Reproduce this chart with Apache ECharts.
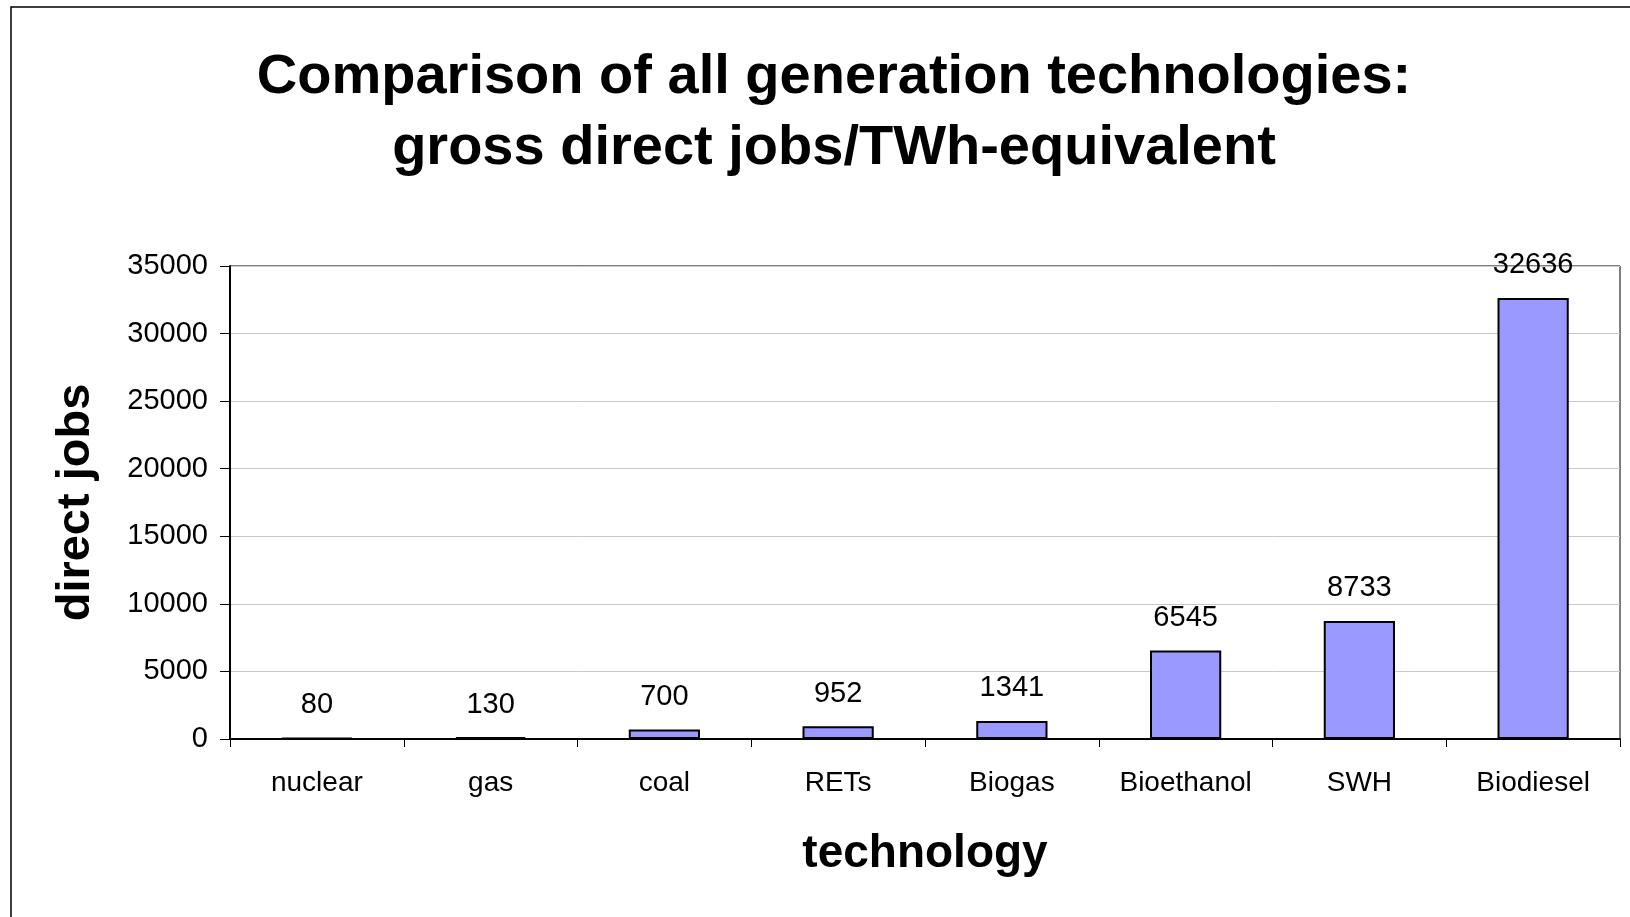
<!DOCTYPE html>
<html><head><meta charset="utf-8">
<script src="https://cdn.jsdelivr.net/npm/echarts@6/dist/echarts.min.js"></script>
<style>html,body{margin:0;padding:0;background:#fff}#c{width:1630px;height:917px}</style>
</head><body><div id="c"></div>
<script>
const categories = ['nuclear','gas','coal','RETs','Biogas','Bioethanol','SWH','Biodiesel'];
const jobs = [80,130,700,952,1341,6545,8733,32636];
const yTicks = [0,5000,10000,15000,20000,25000,30000,35000];
const titleLines = ['Comparison of all generation technologies:','gross direct jobs/TWh-equivalent'];
const FONT = '"Liberation Sans", Arial, sans-serif';
const chart = echarts.init(document.getElementById('c'), null, {renderer:'canvas'});
chart.setOption({
  animation:false,
  backgroundColor:'#fff',
  title:{text:titleLines.join('\n'), left:829, top:37, textAlign:'center',
    textStyle:{fontFamily:FONT, fontWeight:'bold', fontSize:56, lineHeight:71, color:'#000'}},
  graphic:[{type:'rect', shape:{x:11,y:7,width:1700,height:1000}, style:{fill:'none', stroke:'#000', lineWidth:1.5}, silent:true}],
  grid:{left:230, top:266, right:10, bottom:178, show:true, borderColor:'#000', borderWidth:1, containLabel:false},
  xAxis:{type:'category', data:categories,
    axisLine:{lineStyle:{color:'#000', width:2}},
    axisTick:{show:true, interval:0, length:8, lineStyle:{color:'#000', width:1}},
    axisLabel:{interval:0, fontFamily:FONT, fontSize:28, color:'#000', margin:30},
    name:'technology', nameLocation:'middle', nameGap:92,
    nameTextStyle:{fontFamily:FONT, fontWeight:'bold', fontSize:46, color:'#000'}},
  yAxis:{type:'value', min:yTicks[0], max:yTicks[yTicks.length-1], interval:5000,
    axisLine:{show:true, lineStyle:{color:'#000', width:2}},
    axisTick:{show:true, length:10, lineStyle:{color:'#000', width:1}},
    axisLabel:{fontFamily:FONT, fontSize:29, color:'#000', margin:22, formatter:v=>String(v)},
    splitLine:{lineStyle:{color:'#c8c8c8', width:1}},
    name:'direct jobs', nameLocation:'middle', nameGap:130, nameRotate:90,
    nameTextStyle:{fontFamily:FONT, fontWeight:'bold', fontSize:47, color:'#000'}},
  series:[{type:'bar', data:jobs, barWidth:'41%',
    itemStyle:{color:'#9999FF', borderColor:'#000', borderWidth:2},
    label:{show:true, position:'top', distance:18, fontFamily:FONT, fontSize:29, color:'#000'}}]
});
</script></body></html>
